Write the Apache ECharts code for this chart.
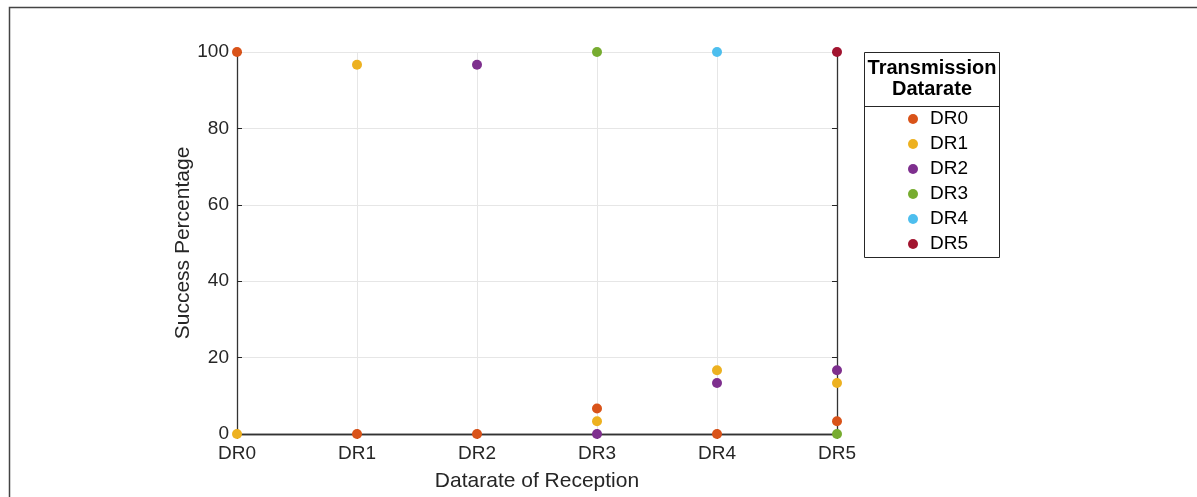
<!DOCTYPE html>
<html>
<head>
<meta charset="utf-8">
<script src="https://cdn.jsdelivr.net/npm/echarts@6/dist/echarts.min.js"></script>
<style>
  html, body { margin: 0; padding: 0; background: #fff; }
  #chart { width: 1197px; height: 497px; }
</style>
</head>
<body>
<div id="chart"></div>
<script>
// reception datarate (x categories)
var rxDatarates = ["DR0", "DR1", "DR2", "DR3", "DR4", "DR5"];
var yTicks = [0, 20, 40, 60, 80, 100];
// success percentage per transmission datarate, one value per reception datarate
var txNames = ["DR0", "DR1", "DR2", "DR3", "DR4", "DR5"];
var txDR0 = [100, 0, 0, 6.67, 0, 3.33];
var txDR1 = [0, 96.67, null, 3.33, 16.67, 13.33];
var txDR2 = [null, null, 96.67, 0, 13.33, 16.67];
var txDR3 = [null, null, null, 100, null, 0];
var txDR4 = [null, null, null, null, 100, null];
var txDR5 = [null, null, null, null, null, 100];
var colors = ["#D95319", "#EDB120", "#7E2F8E", "#77AC30", "#4DBEEE", "#A2142F"];

var chart = echarts.init(document.getElementById("chart"));
var font = "'Liberation Sans', Arial, Helvetica, sans-serif";
var axisColor = "#262626";

var seriesData = [txDR0, txDR1, txDR2, txDR3, txDR4, txDR5];
var series = seriesData.map(function (d, i) {
  return {
    name: txNames[i],
    type: "scatter",
    xAxisIndex: 0,
    yAxisIndex: 0,
    symbol: "circle",
    symbolSize: 10,
    clip: false,
    itemStyle: { color: colors[i], opacity: 1 },
    data: d
  };
});

var option = {
  animation: false,
  color: colors,
  textStyle: { fontFamily: font },
  grid: { left: 237, right: 360, top: 52, bottom: 63 },
  xAxis: [
    {
      type: "category",
      data: rxDatarates,
      boundaryGap: false,
      name: "Datarate of Reception",
      nameLocation: "middle",
      nameGap: 37,
      nameMoveOverlap: false,
      nameTextStyle: { color: axisColor, fontSize: 21, fontFamily: font },
      axisLine: { lineStyle: { color: "#333", width: 1.3 } },
      axisTick: { inside: true, length: 5, lineStyle: { color: axisColor } },
      axisLabel: { color: axisColor, fontSize: 19, margin: 10, fontFamily: font },
      splitLine: { show: true, lineStyle: { color: "#e6e6e6", width: 1 } }
    },
    {
      type: "category",
      data: rxDatarates,
      boundaryGap: false,
      position: "top",
      axisLine: { lineStyle: { color: "#333", width: 1.3 } },
      axisTick: { inside: true, length: 5, lineStyle: { color: axisColor } },
      axisLabel: { show: false },
      splitLine: { show: false }
    }
  ],
  yAxis: [
    {
      type: "value",
      min: 0,
      max: 100,
      interval: 20,
      name: "Success Percentage",
      nameLocation: "middle",
      nameGap: 43,
      nameMoveOverlap: false,
      nameTextStyle: { color: axisColor, fontSize: 21, fontFamily: font },
      axisLine: { show: true, lineStyle: { color: "#333", width: 1.3 } },
      axisTick: { show: true, inside: true, length: 5, lineStyle: { color: axisColor } },
      axisLabel: {
        color: axisColor, fontSize: 19, margin: 8, fontFamily: font,
        formatter: function (v) { return yTicks.indexOf(v) >= 0 ? String(v) : ""; }
      },
      splitLine: { show: true, lineStyle: { color: "#e6e6e6", width: 1 } }
    },
    {
      type: "value",
      min: 0,
      max: 100,
      interval: 20,
      position: "right",
      axisLine: { show: true, lineStyle: { color: "#333", width: 1.3 } },
      axisTick: { show: true, inside: true, length: 5, lineStyle: { color: axisColor } },
      axisLabel: { show: false },
      splitLine: { show: false }
    }
  ],
  legend: {
    orient: "vertical",
    left: 908,
    top: 109.5,
    itemWidth: 20,
    itemHeight: 10,
    itemGap: 6,
    padding: 0,
    icon: "circle",
    data: txNames,
    textStyle: { color: "#000", fontSize: 19, lineHeight: 19, fontFamily: font, padding: [0, 0, 0, 2] }
  },
  graphic: [
    {
      type: "rect",
      silent: true,
      shape: { x: 9.5, y: 7.5, width: 1300, height: 600 },
      style: { fill: "none", stroke: "#444", lineWidth: 1.5 }
    },
    {
      type: "rect",
      silent: true,
      shape: { x: 864.5, y: 52.5, width: 135, height: 205 },
      style: { fill: "#fff", stroke: "#262626", lineWidth: 1 },
      z: -1
    },
    {
      type: "line",
      silent: true,
      shape: { x1: 864.5, y1: 106.5, x2: 999.5, y2: 106.5 },
      style: { stroke: "#262626", lineWidth: 1 }
    },
    {
      type: "text",
      silent: true,
      x: 932,
      y: 79,
      style: {
        text: "Transmission\nDatarate",
        fill: "#000",
        font: "bold 20px " + font,
        lineHeight: 21,
        align: "center",
        verticalAlign: "middle"
      }
    }
  ],
  series: series
};
chart.setOption(option);
</script>
</body>
</html>
